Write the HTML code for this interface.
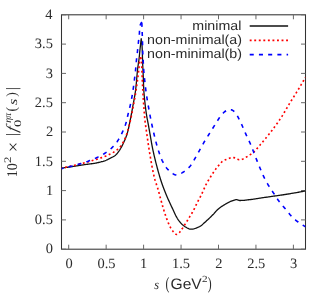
<!DOCTYPE html>
<html><head><meta charset="utf-8">
<style>
html,body{margin:0;padding:0;background:#fff;}
body{width:332px;height:295px;overflow:hidden;font-family:"Liberation Sans",sans-serif;}
svg{display:block;}
</style></head><body>
<svg width="332" height="295" viewBox="0 0 332 295" style="opacity:0.999;will-change:transform" text-rendering="geometricPrecision">
<rect width="332" height="295" fill="#fff"/>
<rect x="61.5" y="14.8" width="244.0" height="234.4" fill="none" stroke="#333" stroke-width="1.05"/>
<path d="M68.70,249.2 v-4.5 M68.70,14.8 v4.5 M106.15,249.2 v-4.5 M106.15,14.8 v4.5 M143.60,249.2 v-4.5 M143.60,14.8 v4.5 M181.05,249.2 v-4.5 M181.05,14.8 v4.5 M218.50,249.2 v-4.5 M218.50,14.8 v4.5 M255.95,249.2 v-4.5 M255.95,14.8 v4.5 M293.40,249.2 v-4.5 M293.40,14.8 v4.5 M61.5,249.20 h4.5 M305.5,249.20 h-4.5 M61.5,219.90 h4.5 M305.5,219.90 h-4.5 M61.5,190.60 h4.5 M305.5,190.60 h-4.5 M61.5,161.30 h4.5 M305.5,161.30 h-4.5 M61.5,132.00 h4.5 M305.5,132.00 h-4.5 M61.5,102.70 h4.5 M305.5,102.70 h-4.5 M61.5,73.40 h4.5 M305.5,73.40 h-4.5 M61.5,44.10 h4.5 M305.5,44.10 h-4.5 M61.5,14.80 h4.5 M305.5,14.80 h-4.5" fill="none" stroke="#686868" stroke-width="1"/>
<g fill="#2b2b2b">
<text transform="translate(65.39,267.55) scale(1.010,1)" font-family="Liberation Serif" font-size="14.3px">0</text>
<text transform="translate(97.43,267.55) scale(1.010,1)" font-family="Liberation Serif" font-size="14.3px">0.5</text>
<text transform="translate(140.09,267.55) scale(1.010,1)" font-family="Liberation Serif" font-size="14.3px">1</text>
<text transform="translate(171.97,267.55) scale(1.010,1)" font-family="Liberation Serif" font-size="14.3px">1.5</text>
<text transform="translate(215.27,267.55) scale(1.010,1)" font-family="Liberation Serif" font-size="14.3px">2</text>
<text transform="translate(247.19,267.55) scale(1.010,1)" font-family="Liberation Serif" font-size="14.3px">2.5</text>
<text transform="translate(290.03,267.55) scale(1.010,1)" font-family="Liberation Serif" font-size="14.3px">3</text>
<text transform="translate(45.63,253.40) scale(1.010,1)" font-family="Liberation Serif" font-size="14.3px">0</text>
<text transform="translate(34.81,224.10) scale(1.010,1)" font-family="Liberation Serif" font-size="14.3px">0.5</text>
<text transform="translate(45.95,194.80) scale(1.010,1)" font-family="Liberation Serif" font-size="14.3px">1</text>
<text transform="translate(34.81,165.50) scale(1.010,1)" font-family="Liberation Serif" font-size="14.3px">1.5</text>
<text transform="translate(45.88,136.20) scale(1.010,1)" font-family="Liberation Serif" font-size="14.3px">2</text>
<text transform="translate(34.81,106.90) scale(1.010,1)" font-family="Liberation Serif" font-size="14.3px">2.5</text>
<text transform="translate(45.64,77.60) scale(1.010,1)" font-family="Liberation Serif" font-size="14.3px">3</text>
<text transform="translate(34.81,48.30) scale(1.010,1)" font-family="Liberation Serif" font-size="14.3px">3.5</text>
<text transform="translate(45.30,19.00) scale(1.010,1)" font-family="Liberation Serif" font-size="14.3px">4</text>
</g>
<clipPath id="cp"><rect x="61.5" y="14.8" width="244.0" height="234.4"/></clipPath>
<g clip-path="url(#cp)" fill="none" stroke-linejoin="round">
<path d="M61.50,168.20 L62.29,168.08 L63.07,167.96 L63.86,167.84 L64.65,167.72 L65.44,167.60 L66.22,167.48 L67.01,167.36 L67.80,167.24 L68.59,167.12 L69.37,167.00 L70.16,166.88 L70.95,166.75 L71.73,166.63 L72.52,166.51 L73.31,166.39 L74.10,166.27 L74.88,166.14 L75.67,166.02 L76.46,165.90 L77.24,165.78 L78.03,165.65 L78.82,165.53 L79.60,165.41 L80.39,165.29 L81.18,165.17 L81.97,165.05 L82.75,164.93 L83.54,164.81 L84.33,164.70 L85.12,164.58 L85.91,164.47 L86.70,164.36 L87.49,164.26 L88.28,164.16 L89.07,164.06 L89.86,163.96 L90.65,163.86 L91.44,163.75 L92.23,163.64 L93.02,163.53 L93.80,163.40 L94.59,163.27 L95.37,163.13 L96.15,162.99 L96.93,162.83 L97.72,162.67 L98.50,162.50 L99.28,162.32 L100.06,162.13 L100.84,161.94 L101.61,161.73 L102.38,161.52 L103.14,161.30 L103.90,161.06 L104.65,160.82 L105.39,160.56 L106.12,160.26 L106.85,159.93 L107.56,159.58 L108.27,159.21 L108.98,158.83 L109.69,158.46 L110.40,158.10 L111.13,157.75 L111.87,157.40 L112.60,157.04 L113.31,156.67 L114.00,156.28 L114.65,155.86 L115.26,155.39 L115.84,154.88 L116.39,154.32 L116.93,153.72 L117.45,153.09 L117.95,152.44 L118.43,151.79 L118.90,151.14 L119.35,150.50 L119.79,149.84 L120.21,149.16 L120.62,148.48 L121.02,147.78 L121.41,147.08 L121.78,146.38 L122.16,145.67 L122.52,144.96 L122.88,144.25 L123.23,143.54 L123.57,142.81 L123.90,142.09 L124.22,141.36 L124.54,140.63 L124.84,139.89 L125.14,139.15 L125.43,138.41 L125.73,137.67 L126.01,136.93 L126.29,136.18 L126.56,135.43 L126.82,134.67 L127.07,133.92 L127.31,133.16 L127.53,132.40 L127.74,131.63 L127.94,130.86 L128.13,130.09 L128.31,129.32 L128.49,128.54 L128.66,127.76 L128.83,126.98 L129.00,126.20 L129.16,125.42 L129.32,124.64 L129.48,123.85 L129.64,123.07 L129.80,122.29 L129.96,121.51 L130.12,120.73 L130.28,119.95 L130.43,119.17 L130.58,118.39 L130.73,117.61 L130.88,116.83 L131.03,116.04 L131.18,115.26 L131.32,114.48 L131.47,113.69 L131.61,112.91 L131.75,112.13 L131.90,111.34 L132.04,110.56 L132.18,109.77 L132.32,108.99 L132.46,108.21 L132.60,107.42 L132.75,106.64 L132.89,105.86 L133.04,105.07 L133.19,104.29 L133.33,103.51 L133.48,102.72 L133.63,101.94 L133.78,101.15 L133.92,100.37 L134.07,99.59 L134.21,98.80 L134.35,98.02 L134.49,97.23 L134.62,96.45 L134.76,95.66 L134.89,94.88 L135.01,94.09 L135.14,93.31 L135.25,92.52 L135.37,91.73 L135.48,90.94 L135.58,90.16 L135.68,89.37 L135.77,88.58 L135.86,87.79 L135.95,87.00 L136.03,86.20 L136.11,85.41 L136.19,84.62 L136.27,83.83 L136.34,83.03 L136.41,82.24 L136.48,81.45 L136.55,80.65 L136.62,79.86 L136.69,79.06 L136.75,78.27 L136.82,77.48 L136.89,76.68 L136.96,75.89 L137.03,75.09 L137.10,74.30 L137.17,73.51 L137.25,72.71 L137.32,71.92 L137.40,71.13 L137.48,70.33 L137.57,69.54 L137.65,68.75 L137.75,67.96 L137.84,67.17 L137.95,66.38 L138.06,65.59 L138.18,64.81 L138.30,64.02 L138.43,63.23 L138.55,62.44 L138.67,61.66 L138.79,60.87 L138.90,60.08 L139.00,59.29 L139.09,58.50 L139.18,57.71 L139.27,56.92 L139.35,56.12 L139.43,55.33 L139.51,54.54 L139.59,53.75 L139.66,52.95 L139.74,52.16 L139.82,51.37 L139.90,50.58 L139.98,49.78 L140.06,48.99 L140.15,48.20 L140.23,47.41 L140.32,46.62 L140.41,45.82 L140.49,45.03 L140.58,44.24 L140.67,43.45 L140.76,42.66 L140.84,41.87 L140.93,41.07 L141.02,40.28 L141.11,39.49 L141.20,38.70 L141.33,39.49 L141.46,40.28 L141.57,41.07 L141.68,41.87 L141.78,42.66 L141.87,43.46 L141.94,44.25 L142.00,45.05 L142.05,45.84 L142.09,46.64 L142.13,47.44 L142.16,48.24 L142.20,49.04 L142.22,49.84 L142.25,50.64 L142.28,51.44 L142.31,52.24 L142.34,53.04 L142.36,53.84 L142.38,54.64 L142.41,55.43 L142.43,56.23 L142.45,57.03 L142.47,57.83 L142.49,58.63 L142.52,59.43 L142.54,60.23 L142.57,61.03 L142.59,61.83 L142.62,62.63 L142.65,63.43 L142.69,64.23 L142.72,65.03 L142.76,65.82 L142.80,66.62 L142.84,67.42 L142.87,68.22 L142.91,69.02 L142.95,69.82 L142.99,70.62 L143.03,71.42 L143.07,72.21 L143.11,73.01 L143.15,73.81 L143.18,74.61 L143.22,75.41 L143.25,76.21 L143.28,77.01 L143.31,77.81 L143.34,78.61 L143.37,79.41 L143.40,80.21 L143.42,81.01 L143.45,81.81 L143.48,82.60 L143.51,83.40 L143.54,84.20 L143.57,85.00 L143.60,85.80 L143.63,86.60 L143.67,87.40 L143.71,88.20 L143.75,89.00 L143.79,89.79 L143.83,90.59 L143.88,91.39 L143.94,92.19 L144.00,92.98 L144.06,93.78 L144.13,94.58 L144.20,95.37 L144.27,96.17 L144.34,96.97 L144.42,97.76 L144.50,98.56 L144.58,99.36 L144.67,100.15 L144.75,100.95 L144.84,101.74 L144.93,102.54 L145.01,103.33 L145.10,104.13 L145.19,104.92 L145.28,105.72 L145.37,106.51 L145.47,107.31 L145.57,108.10 L145.67,108.89 L145.77,109.69 L145.88,110.48 L145.99,111.27 L146.10,112.06 L146.22,112.86 L146.33,113.65 L146.45,114.44 L146.58,115.23 L146.70,116.02 L146.84,116.80 L146.98,117.59 L147.13,118.38 L147.28,119.16 L147.44,119.95 L147.60,120.73 L147.75,121.51 L147.90,122.30 L148.05,123.09 L148.19,123.87 L148.33,124.66 L148.48,125.45 L148.62,126.23 L148.76,127.02 L148.90,127.81 L149.04,128.60 L149.18,129.38 L149.32,130.17 L149.46,130.96 L149.60,131.75 L149.74,132.53 L149.88,133.32 L150.02,134.11 L150.16,134.89 L150.30,135.68 L150.43,136.47 L150.57,137.26 L150.70,138.05 L150.84,138.84 L150.97,139.63 L151.11,140.41 L151.24,141.20 L151.38,141.99 L151.52,142.78 L151.66,143.57 L151.80,144.35 L151.95,145.14 L152.09,145.92 L152.24,146.71 L152.40,147.49 L152.56,148.28 L152.72,149.06 L152.88,149.84 L153.05,150.62 L153.22,151.40 L153.39,152.19 L153.56,152.97 L153.74,153.75 L153.92,154.53 L154.10,155.31 L154.28,156.08 L154.46,156.86 L154.65,157.64 L154.84,158.42 L155.03,159.20 L155.22,159.97 L155.42,160.75 L155.61,161.53 L155.81,162.30 L156.00,163.08 L156.20,163.85 L156.40,164.62 L156.60,165.40 L156.81,166.17 L157.01,166.94 L157.21,167.72 L157.42,168.49 L157.63,169.26 L157.84,170.03 L158.05,170.81 L158.26,171.58 L158.48,172.35 L158.70,173.12 L158.92,173.89 L159.14,174.66 L159.36,175.43 L159.59,176.19 L159.82,176.96 L160.05,177.73 L160.29,178.49 L160.52,179.25 L160.76,180.02 L161.01,180.78 L161.25,181.54 L161.50,182.30 L161.75,183.05 L162.01,183.81 L162.27,184.56 L162.54,185.32 L162.81,186.07 L163.09,186.82 L163.37,187.57 L163.65,188.32 L163.94,189.07 L164.23,189.81 L164.52,190.56 L164.82,191.30 L165.12,192.04 L165.42,192.78 L165.72,193.52 L166.02,194.26 L166.33,195.00 L166.64,195.74 L166.96,196.47 L167.28,197.21 L167.60,197.94 L167.92,198.67 L168.24,199.40 L168.57,200.13 L168.90,200.86 L169.23,201.59 L169.56,202.32 L169.90,203.04 L170.24,203.77 L170.58,204.50 L170.92,205.22 L171.26,205.94 L171.60,206.66 L171.95,207.39 L172.29,208.11 L172.63,208.84 L172.96,209.57 L173.30,210.31 L173.63,211.05 L173.97,211.79 L174.31,212.53 L174.65,213.26 L174.99,214.00 L175.34,214.72 L175.70,215.45 L176.07,216.16 L176.45,216.86 L176.84,217.55 L177.24,218.23 L177.65,218.89 L178.08,219.54 L178.53,220.18 L178.99,220.81 L179.49,221.45 L180.00,222.08 L180.53,222.71 L181.09,223.32 L181.66,223.92 L182.24,224.49 L182.84,225.04 L183.46,225.55 L184.08,226.02 L184.72,226.45 L185.37,226.86 L186.07,227.28 L186.78,227.70 L187.53,228.10 L188.28,228.47 L189.05,228.78 L189.82,229.02 L190.58,229.16 L191.34,229.20 L192.11,229.15 L192.89,229.03 L193.67,228.86 L194.47,228.65 L195.26,228.39 L196.04,228.11 L196.81,227.81 L197.56,227.50 L198.29,227.18 L198.99,226.87 L199.66,226.51 L200.33,226.11 L200.98,225.66 L201.62,225.17 L202.25,224.66 L202.87,224.13 L203.48,223.58 L204.09,223.02 L204.69,222.47 L205.30,221.92 L205.90,221.39 L206.50,220.86 L207.10,220.33 L207.69,219.80 L208.27,219.25 L208.85,218.70 L209.43,218.15 L210.00,217.59 L210.58,217.03 L211.14,216.46 L211.71,215.90 L212.28,215.33 L212.84,214.76 L213.40,214.19 L213.95,213.60 L214.48,213.00 L215.02,212.40 L215.55,211.79 L216.09,211.19 L216.63,210.61 L217.18,210.03 L217.75,209.49 L218.34,208.96 L218.95,208.46 L219.58,207.97 L220.22,207.49 L220.87,207.02 L221.54,206.57 L222.21,206.12 L222.89,205.69 L223.57,205.26 L224.25,204.84 L224.94,204.44 L225.63,204.03 L226.32,203.63 L227.02,203.23 L227.72,202.84 L228.44,202.46 L229.15,202.10 L229.88,201.76 L230.61,201.45 L231.35,201.16 L232.10,200.87 L232.86,200.57 L233.62,200.28 L234.40,200.03 L235.17,199.83 L235.95,199.72 L236.73,199.72 L237.50,199.88 L238.28,200.13 L239.07,200.37 L239.85,200.50 L240.64,200.49 L241.43,200.47 L242.22,200.43 L243.02,200.37 L243.82,200.30 L244.62,200.23 L245.42,200.14 L246.22,200.05 L247.02,199.95 L247.81,199.86 L248.61,199.76 L249.41,199.67 L250.20,199.58 L251.00,199.49 L251.79,199.39 L252.58,199.29 L253.37,199.18 L254.17,199.07 L254.96,198.95 L255.75,198.84 L256.54,198.72 L257.33,198.59 L258.12,198.47 L258.91,198.34 L259.70,198.22 L260.49,198.09 L261.28,197.97 L262.07,197.84 L262.86,197.72 L263.65,197.60 L264.44,197.48 L265.24,197.37 L266.03,197.25 L266.82,197.14 L267.61,197.02 L268.40,196.91 L269.19,196.79 L269.98,196.68 L270.78,196.56 L271.57,196.45 L272.36,196.33 L273.15,196.22 L273.94,196.11 L274.73,196.00 L275.53,195.89 L276.32,195.78 L277.11,195.67 L277.90,195.56 L278.70,195.45 L279.49,195.34 L280.28,195.23 L281.07,195.11 L281.86,195.00 L282.65,194.88 L283.44,194.75 L284.23,194.63 L285.02,194.51 L285.81,194.38 L286.60,194.26 L287.39,194.13 L288.18,194.00 L288.97,193.87 L289.76,193.75 L290.55,193.61 L291.34,193.48 L292.12,193.35 L292.91,193.22 L293.70,193.08 L294.49,192.94 L295.28,192.81 L296.06,192.67 L296.85,192.53 L297.64,192.39 L298.43,192.24 L299.21,192.10 L300.00,191.95 L300.79,191.81 L301.57,191.66 L302.36,191.51 L303.14,191.36 L303.93,191.21 L304.71,191.05 L305.50,190.90" stroke="#111" stroke-width="1.3"/>
<path d="M61.50,168.20 L62.28,168.03 L63.06,167.86 L63.84,167.69 L64.62,167.51 L65.40,167.34 L66.18,167.17 L66.96,166.99 L67.74,166.82 L68.52,166.64 L69.30,166.46 L70.08,166.28 L70.85,166.10 L71.63,165.92 L72.41,165.75 L73.19,165.57 L73.97,165.39 L74.75,165.21 L75.53,165.03 L76.31,164.85 L77.08,164.66 L77.86,164.48 L78.64,164.30 L79.42,164.11 L80.19,163.92 L80.97,163.73 L81.74,163.54 L82.52,163.34 L83.29,163.15 L84.06,162.95 L84.84,162.74 L85.61,162.54 L86.38,162.33 L87.15,162.12 L87.92,161.90 L88.69,161.68 L89.45,161.46 L90.22,161.24 L90.99,161.01 L91.75,160.79 L92.52,160.56 L93.29,160.32 L94.05,160.09 L94.81,159.85 L95.57,159.61 L96.34,159.37 L97.10,159.13 L97.86,158.89 L98.62,158.64 L99.38,158.39 L100.14,158.14 L100.90,157.89 L101.66,157.63 L102.41,157.37 L103.16,157.10 L103.91,156.82 L104.65,156.54 L105.39,156.24 L106.13,155.93 L106.86,155.61 L107.59,155.28 L108.31,154.93 L109.03,154.58 L109.75,154.23 L110.46,153.87 L111.17,153.50 L111.89,153.13 L112.60,152.75 L113.30,152.36 L113.98,151.96 L114.65,151.53 L115.31,151.09 L115.96,150.62 L116.61,150.14 L117.25,149.64 L117.87,149.12 L118.48,148.58 L119.05,148.02 L119.60,147.46 L120.11,146.87 L120.59,146.27 L121.06,145.64 L121.52,144.99 L121.96,144.32 L122.39,143.63 L122.81,142.93 L123.21,142.23 L123.60,141.51 L123.97,140.79 L124.32,140.06 L124.67,139.34 L124.99,138.61 L125.30,137.89 L125.60,137.15 L125.89,136.41 L126.16,135.65 L126.42,134.90 L126.67,134.13 L126.92,133.37 L127.16,132.60 L127.40,131.84 L127.63,131.07 L127.86,130.31 L128.08,129.54 L128.30,128.78 L128.51,128.01 L128.72,127.23 L128.93,126.46 L129.13,125.69 L129.33,124.91 L129.53,124.14 L129.72,123.36 L129.91,122.59 L130.10,121.81 L130.28,121.03 L130.46,120.25 L130.63,119.47 L130.80,118.70 L130.97,117.92 L131.14,117.13 L131.31,116.35 L131.47,115.57 L131.63,114.79 L131.79,114.00 L131.94,113.22 L132.10,112.44 L132.25,111.65 L132.40,110.87 L132.55,110.08 L132.70,109.30 L132.85,108.51 L132.99,107.72 L133.14,106.94 L133.29,106.15 L133.43,105.37 L133.58,104.58 L133.72,103.80 L133.87,103.01 L134.01,102.23 L134.16,101.44 L134.30,100.65 L134.44,99.87 L134.59,99.08 L134.73,98.29 L134.87,97.51 L135.00,96.72 L135.14,95.93 L135.28,95.15 L135.41,94.36 L135.54,93.57 L135.67,92.78 L135.79,91.99 L135.92,91.20 L136.04,90.41 L136.16,89.63 L136.27,88.84 L136.39,88.05 L136.50,87.26 L136.62,86.46 L136.73,85.67 L136.85,84.88 L136.96,84.09 L137.07,83.30 L137.18,82.51 L137.29,81.72 L137.39,80.93 L137.50,80.13 L137.60,79.34 L137.71,78.55 L137.81,77.76 L137.91,76.96 L138.01,76.17 L138.11,75.38 L138.20,74.58 L138.30,73.79 L138.39,73.00 L138.49,72.20 L138.58,71.41 L138.67,70.62 L138.75,69.82 L138.84,69.03 L138.92,68.23 L139.01,67.44 L139.08,66.64 L139.15,65.84 L139.21,65.05 L139.27,64.25 L139.34,63.45 L139.42,62.66 L139.52,61.87 L139.64,61.09 L139.79,60.30 L139.97,59.52 L140.16,58.75 L140.38,57.97 L140.60,57.20" stroke="#ff0000" stroke-width="1.65" stroke-dasharray="1.9 2.65" stroke-dashoffset="0.84"/>
<path d="M140.60,57.20 L140.79,57.98 L140.97,58.76 L141.14,59.55 L141.28,60.34 L141.40,61.12 L141.49,61.91 L141.56,62.71 L141.61,63.50 L141.65,64.30 L141.69,65.10 L141.73,65.90 L141.76,66.70 L141.80,67.50 L141.84,68.30 L141.87,69.10 L141.91,69.90 L141.94,70.70 L141.97,71.50 L142.00,72.30 L142.03,73.10 L142.06,73.89 L142.09,74.69 L142.12,75.49 L142.15,76.29 L142.18,77.09 L142.21,77.89 L142.24,78.69 L142.28,79.49 L142.31,80.29 L142.35,81.09 L142.39,81.88 L142.42,82.68 L142.46,83.48 L142.50,84.28 L142.54,85.08 L142.58,85.88 L142.62,86.68 L142.66,87.47 L142.71,88.27 L142.75,89.07 L142.79,89.87 L142.84,90.67 L142.88,91.47 L142.92,92.26 L142.97,93.06 L143.01,93.86 L143.06,94.66 L143.11,95.46 L143.15,96.26 L143.20,97.05 L143.25,97.85 L143.30,98.65 L143.34,99.45 L143.39,100.25 L143.44,101.05 L143.50,101.84 L143.55,102.64 L143.60,103.44 L143.65,104.24 L143.71,105.03 L143.76,105.83 L143.82,106.63 L143.88,107.43 L143.93,108.23 L143.99,109.02 L144.05,109.82 L144.10,110.62 L144.16,111.42 L144.22,112.21 L144.29,113.01 L144.35,113.81 L144.41,114.61 L144.48,115.40 L144.55,116.20 L144.62,117.00 L144.69,117.79 L144.77,118.59 L144.85,119.38 L144.93,120.18 L145.02,120.97 L145.11,121.77 L145.21,122.56 L145.31,123.35 L145.41,124.14 L145.52,124.94 L145.64,125.73 L145.75,126.52 L145.86,127.31 L145.98,128.10 L146.09,128.90 L146.21,129.69 L146.32,130.48 L146.43,131.27 L146.54,132.06 L146.65,132.86 L146.76,133.65 L146.87,134.44 L146.98,135.23 L147.10,136.02 L147.21,136.82 L147.32,137.61 L147.43,138.40 L147.55,139.19 L147.66,139.98 L147.78,140.77 L147.89,141.57 L148.01,142.36 L148.12,143.15 L148.24,143.94 L148.36,144.73 L148.48,145.52 L148.60,146.31 L148.72,147.10 L148.84,147.89 L148.97,148.68 L149.09,149.47 L149.22,150.26 L149.34,151.05 L149.47,151.84 L149.60,152.63 L149.73,153.42 L149.86,154.20 L150.00,154.99 L150.13,155.78 L150.27,156.57 L150.40,157.36 L150.54,158.15 L150.68,158.93 L150.81,159.72 L150.95,160.51 L151.09,161.30 L151.23,162.09 L151.37,162.88 L151.51,163.67 L151.65,164.46 L151.80,165.25 L151.94,166.04 L152.09,166.82 L152.24,167.61 L152.39,168.40 L152.55,169.18 L152.70,169.97 L152.86,170.75 L153.03,171.54 L153.19,172.32 L153.36,173.10 L153.53,173.88 L153.70,174.66 L153.88,175.44 L154.06,176.22 L154.24,176.99 L154.43,177.77 L154.63,178.54 L154.82,179.31 L155.02,180.08 L155.24,180.85 L155.47,181.61 L155.72,182.37 L155.99,183.12 L156.26,183.88 L156.53,184.63 L156.80,185.39 L157.06,186.14 L157.31,186.90 L157.55,187.67 L157.78,188.43 L158.00,189.20 L158.22,189.97 L158.43,190.74 L158.64,191.51 L158.85,192.28 L159.05,193.06 L159.26,193.83 L159.46,194.60 L159.66,195.38 L159.86,196.15 L160.07,196.93 L160.27,197.70 L160.48,198.47 L160.69,199.24 L160.90,200.02 L161.12,200.78 L161.34,201.55 L161.56,202.32 L161.78,203.09 L162.00,203.86 L162.22,204.63 L162.44,205.40 L162.66,206.17 L162.88,206.94 L163.10,207.71 L163.33,208.48 L163.55,209.25 L163.78,210.02 L164.02,210.78 L164.25,211.55 L164.49,212.31 L164.73,213.08 L164.98,213.83 L165.23,214.59 L165.49,215.35 L165.75,216.10 L166.01,216.85 L166.29,217.60 L166.56,218.35 L166.84,219.11 L167.12,219.87 L167.41,220.63 L167.70,221.39 L167.99,222.16 L168.30,222.91 L168.61,223.66 L168.93,224.41 L169.27,225.14 L169.61,225.86 L169.97,226.57 L170.35,227.26 L170.73,227.93 L171.14,228.58 L171.57,229.24 L172.06,229.96 L172.58,230.71 L173.14,231.47 L173.73,232.21 L174.33,232.89 L174.94,233.49 L175.54,233.98 L176.13,234.32 L176.71,234.49 L177.26,234.45 L177.82,234.20 L178.37,233.76 L178.93,233.19 L179.48,232.50 L180.03,231.75 L180.57,230.97 L181.09,230.19 L181.60,229.45 L182.09,228.79 L182.56,228.15 L183.01,227.49 L183.46,226.83 L183.89,226.16 L184.32,225.48 L184.74,224.80 L185.16,224.11 L185.58,223.43 L186.01,222.75 L186.43,222.07 L186.86,221.40 L187.28,220.72 L187.70,220.04 L188.12,219.36 L188.54,218.67 L188.96,217.99 L189.37,217.31 L189.79,216.63 L190.20,215.94 L190.62,215.26 L191.03,214.58 L191.45,213.89 L191.87,213.21 L192.29,212.53 L192.70,211.84 L193.08,211.14 L193.46,210.44 L193.82,209.73 L194.18,209.01 L194.53,208.29 L194.87,207.57 L195.21,206.85 L195.55,206.12 L195.89,205.40 L196.23,204.67 L196.58,203.95 L196.93,203.23 L197.29,202.52 L197.66,201.81 L198.03,201.10 L198.41,200.40 L198.79,199.69 L199.17,198.99 L199.55,198.29 L199.93,197.58 L200.30,196.87 L200.67,196.16 L201.03,195.45 L201.38,194.73 L201.72,194.01 L202.06,193.29 L202.40,192.56 L202.73,191.83 L203.06,191.11 L203.39,190.38 L203.71,189.65 L204.04,188.92 L204.37,188.19 L204.70,187.46 L205.04,186.73 L205.37,186.01 L205.70,185.28 L206.04,184.55 L206.38,183.83 L206.74,183.11 L207.11,182.41 L207.52,181.72 L207.94,181.04 L208.37,180.36 L208.80,179.69 L209.23,179.01 L209.65,178.34 L210.08,177.66 L210.50,176.98 L210.93,176.31 L211.36,175.63 L211.79,174.96 L212.22,174.28 L212.65,173.61 L213.08,172.94 L213.52,172.27 L213.96,171.60 L214.41,170.94 L214.87,170.29 L215.33,169.63 L215.80,168.98 L216.28,168.34 L216.77,167.71 L217.27,167.09 L217.78,166.47 L218.30,165.86 L218.82,165.26 L219.35,164.66 L219.89,164.06 L220.42,163.44 L220.95,162.81 L221.50,162.22 L222.07,161.66 L222.68,161.18 L223.32,160.78 L224.02,160.41 L224.75,160.07 L225.50,159.76 L226.26,159.46 L227.02,159.18 L227.77,158.89 L228.52,158.58 L229.28,158.26 L230.05,157.95 L230.81,157.68 L231.58,157.49 L232.35,157.40 L233.11,157.45 L233.88,157.62 L234.65,157.88 L235.42,158.18 L236.18,158.48 L236.93,158.78 L237.67,159.16 L238.40,159.55 L239.14,159.83 L239.90,159.89 L240.67,159.78 L241.45,159.57 L242.23,159.29 L242.98,159.01 L243.71,158.69 L244.41,158.31 L245.10,157.89 L245.78,157.46 L246.46,157.04 L247.15,156.62 L247.83,156.19 L248.51,155.76 L249.19,155.33 L249.86,154.88 L250.53,154.43 L251.19,153.97 L251.83,153.50 L252.47,153.01 L253.08,152.52 L253.68,152.01 L254.27,151.49 L254.84,150.95 L255.40,150.38 L255.94,149.81 L256.48,149.22 L257.01,148.61 L257.54,148.00 L258.06,147.39 L258.57,146.77 L259.09,146.14 L259.60,145.52 L260.11,144.90 L260.63,144.28 L261.14,143.67 L261.66,143.06 L262.18,142.45 L262.70,141.84 L263.22,141.23 L263.73,140.62 L264.25,140.01 L264.76,139.39 L265.27,138.78 L265.78,138.16 L266.29,137.55 L266.80,136.93 L267.30,136.31 L267.81,135.68 L268.31,135.06 L268.81,134.44 L269.30,133.81 L269.80,133.18 L270.29,132.55 L270.78,131.92 L271.27,131.29 L271.76,130.66 L272.25,130.02 L272.73,129.39 L273.22,128.75 L273.70,128.11 L274.18,127.47 L274.66,126.83 L275.14,126.19 L275.61,125.54 L276.09,124.90 L276.56,124.25 L277.02,123.60 L277.49,122.95 L277.95,122.30 L278.41,121.64 L278.86,120.98 L279.31,120.32 L279.76,119.66 L280.20,119.00 L280.64,118.33 L281.07,117.66 L281.50,116.99 L281.92,116.31 L282.35,115.64 L282.76,114.95 L283.18,114.27 L283.59,113.59 L284.00,112.90 L284.41,112.21 L284.82,111.52 L285.23,110.83 L285.63,110.14 L286.04,109.45 L286.44,108.76 L286.85,108.07 L287.25,107.38 L287.66,106.69 L288.07,106.00 L288.48,105.32 L288.89,104.63 L289.30,103.94 L289.72,103.26 L290.14,102.58 L290.56,101.90 L290.98,101.22 L291.40,100.54 L291.83,99.87 L292.25,99.19 L292.68,98.51 L293.11,97.84 L293.53,97.16 L293.96,96.48 L294.39,95.81 L294.81,95.13 L295.24,94.45 L295.66,93.78 L296.09,93.10 L296.51,92.42 L296.93,91.74 L297.34,91.06 L297.76,90.37 L298.17,89.69 L298.59,89.01 L299.00,88.32 L299.41,87.64 L299.83,86.95 L300.24,86.26 L300.65,85.58 L301.06,84.89 L301.46,84.20 L301.87,83.52 L302.28,82.83 L302.68,82.14 L303.09,81.45 L303.49,80.76 L303.90,80.07 L304.30,79.38 L304.70,78.69 L305.10,77.99 L305.50,77.30" stroke="#ff0000" stroke-width="1.65" stroke-dasharray="1.9 2.65" stroke-dashoffset="0.00"/>
<path d="M61.50,168.70 L62.28,168.52 L63.05,168.34 L63.83,168.15 L64.60,167.96 L65.38,167.77 L66.15,167.58 L66.92,167.39 L67.70,167.20 L68.47,167.00 L69.24,166.80 L70.01,166.60 L70.78,166.39 L71.55,166.19 L72.32,165.99 L73.09,165.78 L73.86,165.58 L74.63,165.37 L75.40,165.16 L76.17,164.95 L76.94,164.74 L77.71,164.53 L78.48,164.31 L79.25,164.09 L80.01,163.86 L80.77,163.64 L81.54,163.41 L82.30,163.17 L83.06,162.93 L83.81,162.69 L84.57,162.44 L85.32,162.19 L86.07,161.93 L86.82,161.67 L87.57,161.40 L88.32,161.13 L89.07,160.85 L89.82,160.57 L90.56,160.28 L91.31,159.98 L92.05,159.68 L92.79,159.38 L93.52,159.07 L94.26,158.76 L94.99,158.44 L95.72,158.12 L96.44,157.79 L97.16,157.46 L97.88,157.12 L98.59,156.77 L99.31,156.42 L100.02,156.05 L100.73,155.68 L101.43,155.30 L102.13,154.91 L102.82,154.52 L103.51,154.11 L104.19,153.70 L104.87,153.28 L105.54,152.86 L106.21,152.42 L106.88,151.98 L107.54,151.52 L108.19,151.05 L108.82,150.57 L109.44,150.07 L110.04,149.56 L110.63,149.04 L111.20,148.50 L111.78,147.94 L112.34,147.38 L112.90,146.80 L113.45,146.21 L113.99,145.61 L114.52,145.00 L115.04,144.38 L115.54,143.76 L116.03,143.13 L116.51,142.49 L116.98,141.86 L117.43,141.21 L117.87,140.56 L118.30,139.90 L118.72,139.22 L119.13,138.54 L119.53,137.84 L119.92,137.14 L120.30,136.44 L120.68,135.72 L121.04,135.01 L121.40,134.29 L121.74,133.57 L122.08,132.85 L122.41,132.13 L122.74,131.41 L123.07,130.68 L123.39,129.95 L123.70,129.22 L124.01,128.48 L124.31,127.74 L124.60,126.99 L124.89,126.24 L125.16,125.49 L125.43,124.74 L125.68,123.98 L125.92,123.23 L126.15,122.47 L126.37,121.71 L126.56,120.94 L126.75,120.17 L126.93,119.39 L127.10,118.61 L127.27,117.83 L127.43,117.05 L127.60,116.26 L127.77,115.48 L127.95,114.71 L128.14,113.93 L128.33,113.16 L128.52,112.39 L128.72,111.61 L128.92,110.84 L129.11,110.07 L129.31,109.30 L129.50,108.52 L129.69,107.75 L129.88,106.98 L130.06,106.20 L130.23,105.42 L130.40,104.64 L130.56,103.86 L130.73,103.08 L130.89,102.30 L131.04,101.52 L131.20,100.74 L131.35,99.96 L131.50,99.18 L131.65,98.39 L131.79,97.61 L131.93,96.82 L132.07,96.04 L132.21,95.26 L132.34,94.47 L132.47,93.68 L132.60,92.90 L132.72,92.11 L132.85,91.32 L132.97,90.54 L133.09,89.75 L133.20,88.96 L133.32,88.17 L133.43,87.38 L133.54,86.59 L133.64,85.80 L133.75,85.01 L133.85,84.22 L133.95,83.43 L134.05,82.64 L134.15,81.85 L134.25,81.06 L134.34,80.27 L134.44,79.48 L134.54,78.69 L134.64,77.90 L134.74,77.11 L134.84,76.32 L134.94,75.53 L135.03,74.73 L135.13,73.94 L135.23,73.15 L135.32,72.36 L135.41,71.57 L135.50,70.78 L135.58,69.99 L135.66,69.19 L135.73,68.40 L135.81,67.61 L135.87,66.81 L135.94,66.02 L136.00,65.22 L136.07,64.43 L136.13,63.64 L136.20,62.84 L136.27,62.05 L136.35,61.25 L136.42,60.46 L136.51,59.67 L136.59,58.88 L136.68,58.09 L136.78,57.29 L136.87,56.50 L136.97,55.71 L137.06,54.92 L137.16,54.13 L137.25,53.34 L137.34,52.55 L137.43,51.76 L137.51,50.96 L137.60,50.17 L137.68,49.38 L137.76,48.59 L137.85,47.79 L137.93,47.00 L138.01,46.21 L138.09,45.42 L138.17,44.62 L138.26,43.83 L138.34,43.04 L138.43,42.25 L138.52,41.45 L138.61,40.66 L138.71,39.87 L138.81,39.08 L138.91,38.29 L139.01,37.50 L139.10,36.71 L139.19,35.91 L139.27,35.12 L139.34,34.33 L139.40,33.54 L139.44,32.74 L139.48,31.94 L139.51,31.13 L139.53,30.32 L139.56,29.52 L139.60,28.73 L139.64,27.94 L139.70,27.17 L139.82,26.41 L140.02,25.65 L140.29,24.91 L140.62,24.17 L140.98,23.44 L141.38,22.72 L141.80,22.00" stroke="#0000ff" stroke-width="1.6" stroke-dasharray="4.05 5.175" stroke-dashoffset="1.94"/>
<path d="M141.80,22.00 L141.83,22.80 L141.86,23.60 L141.89,24.40 L141.92,25.20 L141.95,25.99 L141.98,26.79 L142.01,27.59 L142.04,28.39 L142.07,29.19 L142.09,29.99 L142.12,30.79 L142.15,31.59 L142.18,32.38 L142.21,33.18 L142.23,33.98 L142.26,34.78 L142.29,35.58 L142.32,36.38 L142.35,37.18 L142.38,37.98 L142.40,38.78 L142.43,39.57 L142.45,40.37 L142.48,41.17 L142.50,41.97 L142.52,42.77 L142.54,43.57 L142.55,44.37 L142.57,45.17 L142.59,45.97 L142.60,46.77 L142.62,47.57 L142.63,48.37 L142.65,49.16 L142.67,49.96 L142.69,50.76 L142.72,51.56 L142.75,52.36 L142.79,53.16 L142.83,53.96 L142.87,54.76 L142.91,55.55 L142.96,56.35 L143.01,57.15 L143.05,57.95 L143.10,58.75 L143.14,59.54 L143.18,60.34 L143.22,61.14 L143.25,61.94 L143.28,62.74 L143.32,63.54 L143.35,64.34 L143.39,65.13 L143.43,65.93 L143.48,66.73 L143.53,67.53 L143.58,68.33 L143.64,69.12 L143.70,69.92 L143.77,70.72 L143.83,71.51 L143.90,72.31 L143.97,73.11 L144.04,73.90 L144.11,74.70 L144.18,75.50 L144.26,76.29 L144.34,77.09 L144.43,77.88 L144.51,78.68 L144.60,79.47 L144.69,80.26 L144.79,81.06 L144.88,81.85 L144.97,82.65 L145.06,83.44 L145.15,84.24 L145.24,85.03 L145.33,85.82 L145.42,86.62 L145.50,87.41 L145.60,88.21 L145.69,89.00 L145.78,89.80 L145.88,90.59 L145.98,91.38 L146.09,92.17 L146.20,92.96 L146.31,93.76 L146.43,94.55 L146.55,95.34 L146.67,96.13 L146.79,96.92 L146.92,97.71 L147.04,98.50 L147.17,99.29 L147.30,100.08 L147.43,100.86 L147.56,101.65 L147.69,102.44 L147.83,103.23 L147.96,104.02 L148.10,104.80 L148.24,105.59 L148.38,106.38 L148.53,107.16 L148.67,107.95 L148.81,108.74 L148.96,109.52 L149.10,110.31 L149.25,111.10 L149.39,111.88 L149.53,112.67 L149.68,113.45 L149.82,114.24 L149.97,115.03 L150.11,115.81 L150.26,116.60 L150.41,117.38 L150.56,118.17 L150.71,118.95 L150.87,119.74 L151.02,120.52 L151.18,121.31 L151.34,122.09 L151.50,122.87 L151.66,123.65 L151.83,124.44 L152.00,125.22 L152.17,126.00 L152.34,126.78 L152.51,127.56 L152.69,128.34 L152.87,129.12 L153.04,129.90 L153.22,130.68 L153.40,131.46 L153.58,132.24 L153.76,133.02 L153.94,133.80 L154.12,134.58 L154.30,135.36 L154.49,136.14 L154.67,136.92 L154.86,137.70 L155.05,138.47 L155.25,139.25 L155.44,140.03 L155.64,140.80 L155.84,141.57 L156.05,142.35 L156.25,143.12 L156.46,143.89 L156.68,144.66 L156.89,145.43 L157.11,146.19 L157.34,146.96 L157.57,147.72 L157.80,148.48 L158.03,149.25 L158.27,150.02 L158.50,150.79 L158.75,151.56 L159.00,152.33 L159.25,153.09 L159.51,153.86 L159.77,154.62 L160.04,155.38 L160.32,156.14 L160.60,156.89 L160.90,157.63 L161.20,158.37 L161.51,159.10 L161.83,159.82 L162.15,160.53 L162.49,161.24 L162.85,161.94 L163.22,162.65 L163.61,163.37 L164.01,164.08 L164.43,164.79 L164.87,165.49 L165.32,166.18 L165.79,166.86 L166.27,167.52 L166.76,168.15 L167.27,168.76 L167.79,169.35 L168.33,169.90 L168.87,170.41 L169.45,170.94 L170.07,171.50 L170.72,172.06 L171.39,172.61 L172.09,173.14 L172.80,173.63 L173.52,174.07 L174.25,174.44 L174.98,174.73 L175.70,174.92 L176.42,175.00 L177.14,174.96 L177.87,174.81 L178.62,174.58 L179.38,174.28 L180.14,173.92 L180.89,173.52 L181.64,173.10 L182.36,172.66 L183.06,172.23 L183.73,171.81 L184.38,171.39 L185.03,170.95 L185.67,170.47 L186.30,169.96 L186.91,169.44 L187.52,168.89 L188.12,168.32 L188.70,167.74 L189.26,167.15 L189.80,166.55 L190.33,165.94 L190.83,165.33 L191.32,164.72 L191.77,164.08 L192.20,163.42 L192.62,162.74 L193.02,162.05 L193.40,161.34 L193.79,160.63 L194.17,159.91 L194.55,159.20 L194.94,158.50 L195.34,157.80 L195.74,157.11 L196.13,156.41 L196.52,155.72 L196.91,155.02 L197.30,154.32 L197.69,153.63 L198.08,152.93 L198.47,152.23 L198.86,151.53 L199.25,150.83 L199.64,150.14 L200.03,149.44 L200.43,148.74 L200.81,148.04 L201.20,147.34 L201.59,146.64 L201.98,145.94 L202.36,145.24 L202.75,144.55 L203.14,143.85 L203.54,143.15 L203.93,142.46 L204.33,141.77 L204.74,141.08 L205.14,140.39 L205.56,139.71 L205.98,139.03 L206.40,138.35 L206.83,137.67 L207.26,137.00 L207.69,136.32 L208.12,135.65 L208.55,134.98 L208.98,134.30 L209.41,133.63 L209.84,132.96 L210.26,132.28 L210.69,131.60 L211.11,130.92 L211.54,130.25 L211.96,129.57 L212.38,128.89 L212.81,128.21 L213.23,127.53 L213.66,126.86 L214.08,126.18 L214.51,125.51 L214.94,124.83 L215.37,124.16 L215.79,123.48 L216.22,122.79 L216.63,122.11 L217.05,121.42 L217.48,120.74 L217.90,120.05 L218.33,119.38 L218.77,118.71 L219.22,118.05 L219.67,117.39 L220.14,116.75 L220.62,116.12 L221.12,115.51 L221.62,114.88 L222.15,114.25 L222.68,113.64 L223.24,113.05 L223.81,112.49 L224.40,111.96 L225.02,111.49 L225.66,111.01 L226.35,110.51 L227.06,110.05 L227.79,109.67 L228.53,109.44 L229.29,109.41 L230.09,109.50 L230.90,109.66 L231.67,109.86 L232.38,110.14 L233.06,110.58 L233.70,111.12 L234.29,111.69 L234.82,112.24 L235.32,112.83 L235.80,113.45 L236.25,114.10 L236.69,114.77 L237.11,115.47 L237.52,116.17 L237.92,116.89 L238.30,117.61 L238.68,118.34 L239.06,119.06 L239.43,119.77 L239.80,120.47 L240.15,121.18 L240.50,121.90 L240.84,122.62 L241.17,123.35 L241.49,124.08 L241.81,124.81 L242.13,125.55 L242.44,126.29 L242.75,127.03 L243.06,127.77 L243.37,128.51 L243.68,129.24 L244.00,129.98 L244.32,130.72 L244.64,131.45 L244.97,132.17 L245.30,132.90 L245.64,133.63 L245.98,134.35 L246.32,135.07 L246.66,135.80 L247.01,136.52 L247.35,137.24 L247.69,137.97 L248.03,138.69 L248.37,139.41 L248.71,140.14 L249.04,140.86 L249.37,141.59 L249.70,142.32 L250.02,143.05 L250.34,143.78 L250.65,144.52 L250.96,145.26 L251.26,146.00 L251.56,146.74 L251.86,147.48 L252.15,148.22 L252.45,148.97 L252.74,149.71 L253.03,150.45 L253.32,151.20 L253.61,151.94 L253.90,152.69 L254.20,153.43 L254.49,154.18 L254.78,154.92 L255.06,155.67 L255.35,156.42 L255.63,157.16 L255.92,157.91 L256.20,158.66 L256.49,159.41 L256.77,160.15 L257.06,160.90 L257.35,161.64 L257.65,162.38 L257.94,163.13 L258.25,163.87 L258.55,164.60 L258.86,165.34 L259.16,166.08 L259.47,166.82 L259.77,167.56 L260.08,168.30 L260.39,169.04 L260.70,169.78 L261.02,170.52 L261.33,171.25 L261.65,171.99 L261.97,172.72 L262.29,173.45 L262.62,174.18 L262.95,174.91 L263.28,175.64 L263.62,176.36 L263.96,177.08 L264.31,177.80 L264.66,178.52 L265.01,179.23 L265.37,179.94 L265.74,180.65 L266.12,181.35 L266.50,182.05 L266.90,182.75 L267.30,183.44 L267.71,184.13 L268.12,184.82 L268.54,185.50 L268.96,186.18 L269.38,186.86 L269.81,187.53 L270.25,188.20 L270.69,188.87 L271.13,189.53 L271.58,190.19 L272.03,190.85 L272.48,191.51 L272.94,192.17 L273.39,192.84 L273.83,193.50 L274.27,194.16 L274.71,194.83 L275.15,195.51 L275.58,196.18 L276.01,196.85 L276.45,197.53 L276.89,198.20 L277.33,198.86 L277.77,199.53 L278.23,200.18 L278.69,200.83 L279.16,201.47 L279.65,202.10 L280.14,202.73 L280.65,203.35 L281.16,203.96 L281.67,204.57 L282.19,205.18 L282.72,205.79 L283.24,206.40 L283.76,207.00 L284.29,207.61 L284.80,208.22 L285.32,208.83 L285.83,209.45 L286.33,210.07 L286.83,210.70 L287.33,211.33 L287.82,211.96 L288.32,212.59 L288.83,213.21 L289.34,213.83 L289.85,214.44 L290.38,215.04 L290.91,215.63 L291.46,216.20 L292.01,216.77 L292.58,217.33 L293.16,217.88 L293.75,218.43 L294.35,218.97 L294.95,219.50 L295.56,220.02 L296.18,220.53 L296.81,221.03 L297.44,221.51 L298.07,221.99 L298.71,222.46 L299.36,222.92 L300.01,223.37 L300.68,223.82 L301.35,224.26 L302.02,224.69 L302.70,225.11 L303.39,225.52 L304.09,225.92 L304.79,226.32 L305.50,226.70" stroke="#0000ff" stroke-width="1.6" stroke-dasharray="4.05 5.175" stroke-dashoffset="8.40"/>
</g>
<g fill="#2b2b2b">
<text transform="translate(192.36,29.50) scale(1.086,1)" font-family="Liberation Sans" font-size="13.1px">minimal</text>
<text transform="translate(147.05,43.60) scale(1.087,1)" font-family="Liberation Sans" font-size="13.1px">non-minimal(a)</text>
<text transform="translate(147.05,57.50) scale(1.087,1)" font-family="Liberation Sans" font-size="13.1px">non-minimal(b)</text>
</g>
<g fill="none">
<path d="M249.7,26 H288.1" stroke="#111" stroke-width="1.3"/>
<path d="M249.7,40.3 H288.1" stroke="#ff0000" stroke-width="1.65" stroke-dasharray="1.9 2.65"/>
<path d="M249.7,54.6 H288.1" stroke="#0000ff" stroke-width="1.6" stroke-dasharray="4.05 5.175"/>
</g>
<g fill="#2b2b2b">
<text transform="translate(154.35,288.87) scale(0.918,1)" font-family="Liberation Serif" font-size="13.51px" font-style="italic">s</text>
<text transform="translate(165.49,288.51) scale(0.675,1)" font-family="Liberation Serif" font-size="17.31px">(</text>
<text transform="translate(170.51,288.85) scale(1.034,1)" font-family="Liberation Sans" font-size="15.11px">GeV</text>
<text transform="translate(202.01,282.20) scale(1.199,1)" font-family="Liberation Serif" font-size="9.36px">2</text>
<text transform="translate(207.82,288.51) scale(0.675,1)" font-family="Liberation Serif" font-size="17.31px">)</text>
</g>
<g transform="rotate(-90)" fill="#2b2b2b">
<text transform="translate(-177.13,17.35) scale(0.932,1)" font-family="Liberation Serif" font-size="14.97px">10</text>
<text transform="translate(-163.07,11.00) scale(1.301,1)" font-family="Liberation Serif" font-size="9.97px">2</text>
<text transform="translate(-152.26,19.01) scale(1.028,1)" font-family="Liberation Serif" font-size="17.93px">×</text>
<text transform="translate(-136.01,16.58) scale(1.015,1)" font-family="Liberation Serif" font-size="15.83px">|</text>
<text transform="translate(-132.2,17.1) skewX(-14)" font-family="Liberation Serif" font-style="italic" font-size="15.8px">f</text>
<text transform="translate(-127.06,21.10) scale(1.451,1)" font-family="Liberation Serif" font-size="10.08px">0</text>
<text transform="translate(-122.85,10.64) scale(1.033,1)" font-family="Liberation Serif" font-size="9.64px" font-style="italic">ηπ</text>
<text transform="translate(-111.40,16.05) scale(0.950,1)" font-family="Liberation Serif" font-size="14.34px">(</text>
<text transform="translate(-105.00,16.68) scale(1.274,1)" font-family="Liberation Serif" font-size="12.68px" font-style="italic">s</text>
<text transform="translate(-96.64,16.05) scale(0.950,1)" font-family="Liberation Serif" font-size="14.34px">)</text>
<text transform="translate(-90.21,16.58) scale(1.015,1)" font-family="Liberation Serif" font-size="15.83px">|</text>
</g>
</svg>
</body></html>
